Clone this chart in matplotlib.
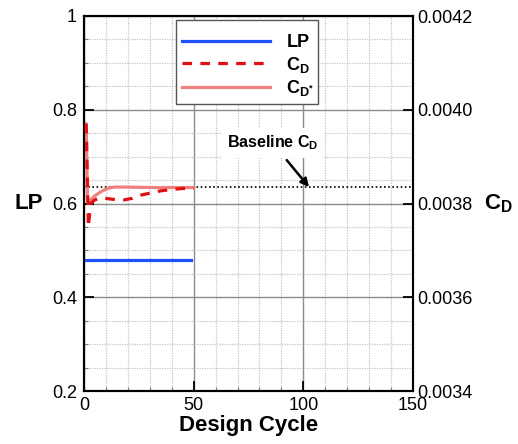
import matplotlib
matplotlib.use("Agg")
import matplotlib.pyplot as plt
from matplotlib.ticker import MultipleLocator, FuncFormatter

plt.rcParams['font.family'] = ['Liberation Sans', 'DejaVu Sans']
plt.rcParams['mathtext.fontset'] = 'custom'
plt.rcParams['mathtext.rm'] = 'Liberation Sans'
plt.rcParams['mathtext.bf'] = 'Liberation Sans:bold'
plt.rcParams['mathtext.it'] = 'Liberation Sans:italic'

# ---- data ----
lp_cycle = [1, 49]
lp_value = [0.48, 0.48]

cd_cycle = [1, 2, 3, 5, 8, 13, 18, 22, 26, 30, 35, 40, 45, 50]
cd_value = [0.00397, 0.00375, 0.00380, 0.003808, 0.003812, 0.003809, 0.0038075,
            0.003811, 0.003818, 0.003822, 0.003827, 0.00383, 0.003832, 0.003832]

cdstar_cycle = [1, 1.6, 2.3, 4.6, 7.6, 10.6, 13.7, 20, 30, 40, 50]
cdstar_value = [0.00397, 0.00381, 0.003804, 0.003815, 0.003825, 0.003832, 0.003835,
                0.003835, 0.003834, 0.003834, 0.003834]

baseline_cd = 0.003835
baseline_label = r'Baseline $\mathbf{C_D}$'

x_ticks = [0, 50, 100, 150]
lp_ticks = [0.2, 0.4, 0.6, 0.8, 1.0]
cd_ticks = [0.0034, 0.0036, 0.0038, 0.0040, 0.0042]

fig = plt.figure(figsize=(5.18, 4.44), dpi=100)
ax = fig.add_axes([84/518, 53/444, 329/518, 375/444])
ax2 = ax.twinx()

ax.set_xlim(0, 150)
ax.set_ylim(0.2, 1.0)
ax2.set_ylim(0.0034, 0.0042)

ax.set_xticks(x_ticks)
ax.set_yticks(lp_ticks)
ax2.set_yticks(cd_ticks)
ax.xaxis.set_minor_locator(MultipleLocator(10))
ax.yaxis.set_minor_locator(MultipleLocator(0.05))
ax.yaxis.set_major_formatter(FuncFormatter(lambda v, p: '%g' % v))
ax2.yaxis.set_major_formatter(FuncFormatter(lambda v, p: '%.4f' % v))

ax.grid(which='major', color='#8c8c8c', lw=1.0, ls='-')
ax.grid(which='minor', color='#c4c4c4', lw=0.9, ls=(0, (1, 1)))
ax.set_axisbelow(True)

for a in (ax, ax2):
    for s in a.spines.values():
        s.set_linewidth(1.5)
        s.set_color('black')

ax.tick_params(which='major', direction='in', length=7, width=1.3, labelsize=13, pad=5)
ax.tick_params(which='minor', direction='in', length=3, width=0.8, color='#777777')
ax.tick_params(axis='x', pad=4)
ax2.tick_params(which='major', direction='in', length=7, width=1.3, labelsize=13, pad=3)

l1, = ax.plot(lp_cycle, lp_value, color='#1f4fff', lw=2.3, label='LP')
l2, = ax2.plot(cd_cycle, cd_value, color='#e01010', lw=2.3, ls=(0, (3, 2.6)),
               label=r'$\mathbf{C_D}$', zorder=3)
l3, = ax2.plot(cdstar_cycle, cdstar_value, color='#f08080', lw=2.3,
               label=r'$\mathbf{C_{D^{*}}}$', zorder=2)
ax2.axhline(baseline_cd, color='black', lw=1.2, ls=(0, (1, 1.5)), zorder=1)

ax2.annotate(baseline_label, xy=(102.6, baseline_cd), xytext=(86, 0.003929),
             ha='center', va='center', fontsize=11.5, fontweight='bold',
             bbox=dict(fc='white', ec='none', pad=4),
             arrowprops=dict(arrowstyle='-|>', color='black', lw=1.8,
                             mutation_scale=12, shrinkA=2, shrinkB=0))

leg = ax2.legend(handles=[l1, l2, l3], loc='upper left',
                 bbox_to_anchor=(0.28, 0.763, 0.432, 0.226), mode='expand',
                 borderaxespad=0, handlelength=4.9, handletextpad=0.9,
                 labelspacing=0.2, borderpad=0.3, fancybox=False, framealpha=1,
                 edgecolor='#555555', prop={'weight': 'bold', 'size': 13},
                 title=' ', title_fontproperties={'size': 4})
leg.get_frame().set_linewidth(1.0)

ax.set_xlabel('Design Cycle', fontsize=16, fontweight='bold', labelpad=1)
ax.set_ylabel('LP', fontsize=16, fontweight='bold', rotation=0, ha='center', va='center')
ax.yaxis.set_label_coords(-0.167, 0.5)
ax2.set_ylabel(r'$\mathbf{C_D}$', fontsize=16, rotation=0, ha='center', va='center')
ax2.yaxis.set_label_coords(1.261, 0.5)

fig.savefig('out.png', dpi=100)
